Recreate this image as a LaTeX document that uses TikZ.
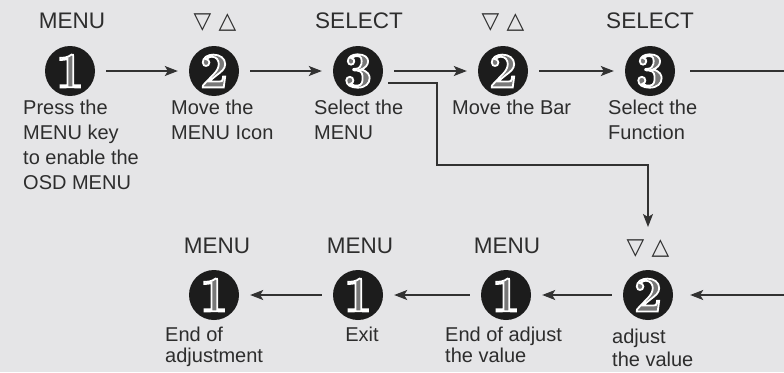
\documentclass[tikz,border=0pt]{standalone}
\usepackage{fontspec}
\setsansfont{Liberation Sans}
\newfontfamily\symfont{DejaVu Sans}
\usetikzlibrary{arrows.meta}
\definecolor{bg}{RGB}{229,229,231}
\definecolor{circ}{RGB}{28,28,28}
\definecolor{txt}{RGB}{45,45,45}
\definecolor{linec}{RGB}{50,50,50}
\definecolor{digc}{RGB}{120,120,120}
\newcommand\digit[1]{\textcolor{digc}{\special{pdf:literal direct 1 1 1 RG 2 Tr 1.8 w}#1\special{pdf:literal direct 0 Tr}}}
\begin{document}
\begin{tikzpicture}[x=1pt,y=-1pt,
  numc/.style={circle, fill=circ, minimum size=50pt, inner sep=0pt,
    font=\fontsize{50}{50}\selectfont\rmfamily\bfseries},
  key/.style={font=\sffamily\fontsize{22.5}{22.5}\selectfont, text=txt, anchor=base, inner sep=0pt},
  keysym/.style={font=\symfont\fontsize{23}{23}\selectfont, text=txt, anchor=base, inner sep=0pt},
  desc/.style={font=\sffamily\fontsize{20}{25}\selectfont, text=txt, align=left, anchor=north west, inner sep=0pt},
  descb/.style={desc, font=\sffamily\fontsize{20}{21}\selectfont},
  conn/.style={draw=linec, line width=1.4pt, shorten >=11pt, shorten <=11pt,
    -{Stealth[length=13pt,width=10pt,inset=3pt]}},
  branch/.style={draw=linec, line width=1.4pt,
    -{Stealth[length=13pt,width=10pt,inset=3pt]}}]
\useasboundingbox (0,0) rectangle (784,372);
\fill[bg] (0,0) rectangle (784,372);
\clip (0,0) rectangle (784,372);

% top row
\node[numc] (a1) at (70,71) {\digit{1}};
\node[numc] (a2) at (214,71) {\digit{2}};
\node[numc] (a3) at (358,71) {\digit{3}};
\node[numc] (a4) at (503,71) {\digit{2}};
\node[numc] (a5) at (650,71) {\digit{3}};

\node[key] (k1) at (72,28) {MENU};
\node[keysym] (k2) at (215,28) {▽ △};
\node[key] (k3) at (359,28) {SELECT};
\node[keysym] (k4) at (503,28) {▽ △};
\node[key] (k5) at (650,28) {SELECT};

\node[desc] (d1) at (23,100) {Press the\\MENU key\\to enable the\\OSD MENU};
\node[desc] (d2) at (171,100) {Move the\\MENU Icon};
\node[desc] (d3) at (314,100) {Select the\\MENU};
\node[desc] (d4) at (452,100) {Move the Bar};
\node[desc] (d5) at (608,100) {Select the\\Function};

% bottom row
\node[numc] (b1) at (214,295) {\digit{1}};
\node[numc] (b2) at (358,295) {\digit{1}};
\node[numc] (b3) at (506,295) {\digit{1}};
\node[numc] (b4) at (648,295) {\digit{2}};

\node[key] (m1) at (217,253) {MENU};
\node[key] (m2) at (360,253) {MENU};
\node[key] (m3) at (507,253) {MENU};
\node[keysym] (m4) at (648,254) {▽ △};

\node[descb] (e1) at (165,327) {End of\\adjustment};
\node[descb, anchor=north] (e2) at (362,327) {Exit};
\node[descb] (e3) at (445,327) {End of adjust\\the value};
\node[desc, font=\sffamily\fontsize{20}{23}\selectfont] (e4) at (612,329) {adjust\\the value};

% connectors
\draw[conn] (a1) -- (a2);
\draw[conn] (a2) -- (a3);
\draw[conn] (a3) -- (a4);
\draw[conn] (a4) -- (a5);
\draw[conn, shorten <=15pt, shorten >=17pt] (a5) -- (810,71) -- (810,295) -- (b4);
\draw[conn] (b4) -- (b3);
\draw[conn] (b3) -- (b2);
\draw[conn] (b2) -- (b1);

\coordinate (bs) at ([shift={(5pt,-12pt)}]a3.east);
\coordinate (bt) at ([yshift=12pt]m4.north);
\draw[branch] (bs) -| (437,165) -| (bt);
\end{tikzpicture}
\end{document}
